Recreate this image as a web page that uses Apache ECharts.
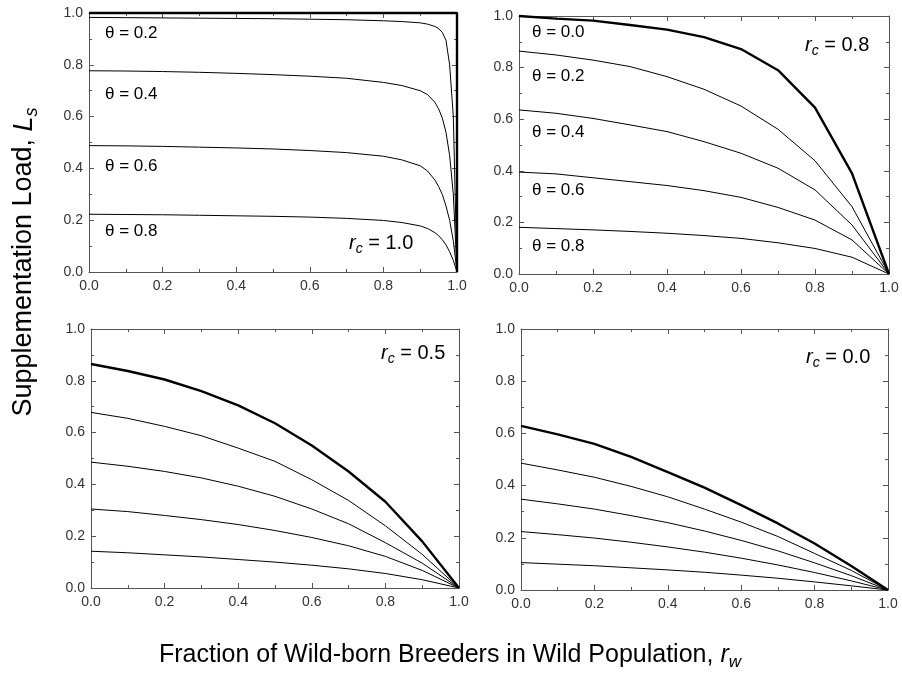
<!DOCTYPE html>
<html>
<head>
<meta charset="utf-8">
<script src="https://cdn.jsdelivr.net/npm/echarts@6/dist/echarts.min.js"></script>
<style>
  html, body { margin: 0; padding: 0; background: #fff; }
  #chartmain { width: 902px; height: 682px; }
</style>
</head>
<body>
<div id="chartmain"></div>
<script>
// x positions (fraction of wild-born breeders, r_w)
var xCoarse = [0, 0.1, 0.2, 0.3, 0.4, 0.5, 0.6, 0.7, 0.8, 0.9, 1.0];
var xFine = [0, 0.1, 0.2, 0.3, 0.4, 0.5, 0.6, 0.7, 0.8, 0.85, 0.9, 0.92, 0.94, 0.95, 0.96, 0.97, 0.98, 0.99, 1.0];
var xStep = [0, 0.5, 1.0, 1.0]; // theta = 0 at r_c = 1: flat at 1, drops at r_w = 1

var thetaLabels = ['θ = 0.0', 'θ = 0.2', 'θ = 0.4', 'θ = 0.6', 'θ = 0.8'];
var tickLabels = ['0.0', '0.2', '0.4', '0.6', '0.8', '1.0'];

// r_c = 1.0
var rc10_t00 = [1, 1, 1, 0]; // on xStep
var rc10_t02 = [0.983, 0.982, 0.981, 0.980, 0.979, 0.978, 0.976, 0.974, 0.970, 0.967, 0.962, 0.957, 0.948, 0.940, 0.925, 0.895, 0.80, 0.60, 0];
var rc10_t04 = [0.777, 0.776, 0.774, 0.771, 0.767, 0.762, 0.756, 0.748, 0.732, 0.72, 0.700, 0.685, 0.655, 0.630, 0.595, 0.540, 0.450, 0.300, 0];
var rc10_t06 = [0.488, 0.487, 0.485, 0.482, 0.479, 0.475, 0.469, 0.461, 0.447, 0.433, 0.410, 0.390, 0.355, 0.330, 0.300, 0.255, 0.200, 0.120, 0];
var rc10_t08 = [0.223, 0.222, 0.221, 0.219, 0.217, 0.215, 0.212, 0.207, 0.199, 0.191, 0.178, 0.168, 0.152, 0.140, 0.125, 0.105, 0.078, 0.045, 0];

// r_c = 0.8 (on xCoarse)
var rc08_t00 = [1.0, 0.99, 0.982, 0.965, 0.947, 0.918, 0.872, 0.79, 0.645, 0.39, 0];
var rc08_t02 = [0.864, 0.849, 0.829, 0.804, 0.765, 0.716, 0.651, 0.561, 0.439, 0.261, 0];
var rc08_t04 = [0.636, 0.623, 0.603, 0.578, 0.552, 0.513, 0.468, 0.41, 0.326, 0.19, 0];
var rc08_t06 = [0.395, 0.388, 0.373, 0.358, 0.343, 0.323, 0.297, 0.258, 0.209, 0.132, 0];
var rc08_t08 = [0.181, 0.176, 0.171, 0.165, 0.158, 0.149, 0.138, 0.121, 0.099, 0.065, 0];

// r_c = 0.5
var rc05_t00 = [0.865, 0.838, 0.805, 0.76, 0.705, 0.636, 0.55, 0.45, 0.333, 0.18, 0];
var rc05_t02 = [0.678, 0.655, 0.624, 0.588, 0.54, 0.489, 0.418, 0.338, 0.24, 0.13, 0];
var rc05_t04 = [0.486, 0.47, 0.45, 0.425, 0.393, 0.354, 0.305, 0.248, 0.175, 0.096, 0];
var rc05_t06 = [0.305, 0.295, 0.28, 0.264, 0.245, 0.222, 0.195, 0.163, 0.122, 0.068, 0];
var rc05_t08 = [0.142, 0.136, 0.128, 0.12, 0.11, 0.1, 0.088, 0.074, 0.056, 0.032, 0];

// r_c = 0.0
var rc00_t00 = [0.629, 0.596, 0.56, 0.51, 0.452, 0.392, 0.325, 0.255, 0.178, 0.092, 0];
var rc00_t02 = [0.486, 0.46, 0.432, 0.397, 0.357, 0.31, 0.26, 0.205, 0.14, 0.075, 0];
var rc00_t04 = [0.348, 0.33, 0.31, 0.285, 0.258, 0.226, 0.19, 0.15, 0.104, 0.055, 0];
var rc00_t06 = [0.224, 0.212, 0.199, 0.183, 0.165, 0.145, 0.122, 0.096, 0.067, 0.035, 0];
var rc00_t08 = [0.105, 0.099, 0.093, 0.085, 0.077, 0.068, 0.057, 0.045, 0.031, 0.016, 0];

var FONT = '"Liberation Sans", Arial, sans-serif';

window.onload = function () {
    var chart = echarts.init(document.getElementById('chartmain'));
    initChart(chart);
};

function pairs(xs, ys) {
    var out = [];
    for (var i = 0; i < xs.length; i++) out.push([xs[i], ys[i]]);
    return out;
}

function makeAxis(pos, showLabel) {
    return {
        type: 'value', position: pos, min: 0, max: 1, interval: 0.2,
        axisLine: { show: true, onZero: false, lineStyle: { color: '#555', width: 1 } },
        axisTick: { show: true, inside: true, length: 5, lineStyle: { color: '#555' } },
        minorTick: { show: true, splitNumber: 2, length: 3, lineStyle: { color: '#555' } },
        splitLine: { show: false },
        axisLabel: {
            show: showLabel, color: '#333', fontFamily: FONT, fontSize: 14,
            margin: pos === 'left' ? 6 : 7,
            formatter: function (v) { return tickLabels[Math.round(v * 5)]; }
        }
    };
}

function initChart(chart) {
    var panels = [
        { grid: { left: 89, top: 13, width: 368, height: 259 },
          xs: [xStep, xFine, xFine, xFine, xFine],
          curves: [rc10_t00, rc10_t02, rc10_t04, rc10_t06, rc10_t08] },
        { grid: { left: 519, top: 16, width: 370, height: 258 },
          xs: [xCoarse, xCoarse, xCoarse, xCoarse, xCoarse],
          curves: [rc08_t00, rc08_t02, rc08_t04, rc08_t06, rc08_t08] },
        { grid: { left: 91, top: 329, width: 368, height: 259 },
          xs: [xCoarse, xCoarse, xCoarse, xCoarse, xCoarse],
          curves: [rc05_t00, rc05_t02, rc05_t04, rc05_t06, rc05_t08] },
        { grid: { left: 521, top: 329, width: 367, height: 261 },
          xs: [xCoarse, xCoarse, xCoarse, xCoarse, xCoarse],
          curves: [rc00_t00, rc00_t02, rc00_t04, rc00_t06, rc00_t08] }
    ];

    var grids = [], xAxes = [], yAxes = [], series = [];
    panels.forEach(function (p, i) {
        grids.push(p.grid);
        var xb = makeAxis('bottom', true); xb.gridIndex = i;
        var xt = makeAxis('top', false); xt.gridIndex = i;
        var yl = makeAxis('left', true); yl.gridIndex = i;
        var yr = makeAxis('right', false); yr.gridIndex = i;
        xAxes.push(xb, xt);
        yAxes.push(yl, yr);
        p.curves.forEach(function (c, j) {
            series.push({
                name: thetaLabels[j], type: 'line',
                xAxisIndex: 2 * i, yAxisIndex: 2 * i,
                data: pairs(p.xs[j], c), symbol: 'none', clip: false,
                lineStyle: { color: '#000', width: j === 0 ? 2.4 : 1 }
            });
        });
    });

    function theta(txt, x, y) {
        return { type: 'text', x: x, y: y, style: { text: txt, fill: '#000', font: '17px ' + FONT, verticalAlign: 'middle' } };
    }
    function rcLabel(val, x, y) {
        return {
            type: 'text', x: x, y: y,
            style: {
                text: '{i|r}{s|c}{n| = ' + val + '}', verticalAlign: 'middle',
                rich: {
                    i: { fontFamily: FONT, fontSize: 20, fontStyle: 'italic', fill: '#000', lineHeight: 26, verticalAlign: 'middle' },
                    s: { fontFamily: FONT, fontSize: 14, fontStyle: 'italic', fill: '#000', lineHeight: 26, verticalAlign: 'bottom' },
                    n: { fontFamily: FONT, fontSize: 20, fill: '#000', lineHeight: 26, verticalAlign: 'middle' }
                }
            }
        };
    }

    var graphics = [
        theta(thetaLabels[1], 105, 33), theta(thetaLabels[2], 105, 94),
        theta(thetaLabels[3], 105, 166), theta(thetaLabels[4], 105, 231),
        rcLabel('1.0', 349, 243),
        theta(thetaLabels[0], 532, 32), theta(thetaLabels[1], 532, 76),
        theta(thetaLabels[2], 532, 132), theta(thetaLabels[3], 532, 190),
        theta(thetaLabels[4], 532, 246),
        rcLabel('0.8', 805, 45),
        rcLabel('0.5', 381, 353),
        rcLabel('0.0', 806, 357),
        {
            type: 'text', x: 24, y: 262, rotation: Math.PI / 2, originX: 0, originY: 0,
            style: {
                text: '{n|Supplementation Load, }{i|L}{s|s}', align: 'center', verticalAlign: 'middle',
                rich: {
                    n: { fontFamily: FONT, fontSize: 27, fill: '#000', lineHeight: 34, verticalAlign: 'middle' },
                    i: { fontFamily: FONT, fontSize: 27, fontStyle: 'italic', fill: '#000', lineHeight: 34, verticalAlign: 'middle' },
                    s: { fontFamily: FONT, fontSize: 18, fontStyle: 'italic', fill: '#000', lineHeight: 34, verticalAlign: 'bottom' }
                }
            }
        },
        {
            type: 'text', x: 450, y: 655,
            style: {
                text: '{n|Fraction of Wild-born Breeders in Wild Population, }{i|r}{s|w}', align: 'center', verticalAlign: 'middle',
                rich: {
                    n: { fontFamily: FONT, fontSize: 25, fill: '#000', lineHeight: 32, verticalAlign: 'middle' },
                    i: { fontFamily: FONT, fontSize: 25, fontStyle: 'italic', fill: '#000', lineHeight: 32, verticalAlign: 'middle' },
                    s: { fontFamily: FONT, fontSize: 17, fontStyle: 'italic', fill: '#000', lineHeight: 32, verticalAlign: 'bottom' }
                }
            }
        }
    ];

    chart.setOption({
        animation: false,
        backgroundColor: '#fff',
        grid: grids,
        xAxis: xAxes,
        yAxis: yAxes,
        series: series,
        graphic: graphics
    });
}
</script>
</body>
</html>
